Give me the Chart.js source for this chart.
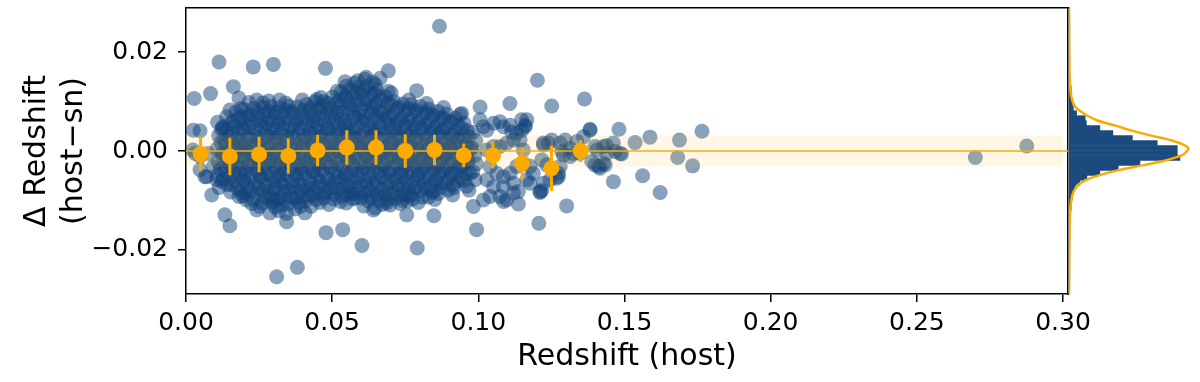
<!DOCTYPE html>
<html>
<head>
<meta charset="utf-8">
<script src="https://cdn.jsdelivr.net/npm/chart.js@4.4.1/dist/chart.umd.min.js"></script>
<style>
  body { margin: 0; background: #fff; }
  #wrap { position: relative; width: 1200px; height: 382px; }
  #main { position: absolute; left: 0; top: 0; }
  #side { position: absolute; left: 1068px; top: 0; }
</style>
</head>
<body>
<div id="wrap">
  <canvas id="main" width="1200" height="382"></canvas>
  <canvas id="side" width="132" height="382"></canvas>
</div>
<script>
// axis limits and ticks
const xLim = [0, 0.3017];
const yLim = [-0.0289, 0.0289];
const xTicks = [0, 0.05, 0.10, 0.15, 0.20, 0.25, 0.30];
const yTicks = [-0.02, 0, 0.02];

// host redshift vs (host - sn), dense core
const corePairs = [
  [.0108,.0058],[.0121,.0044],[.0112,.0031],[.0119,.0017],[.0106,.0004],[.0124,-.0009],[.0110,-.0022],[.0118,-.0036],[.0107,-.0049],[.0122,-.0061],[.0113,-.0074],
  [.0139,.0069],[.0152,.0056],[.0141,.0042],[.0149,.0028],[.0137,.0015],[.0154,.0001],[.0143,-.0013],[.0150,-.0027],[.0136,-.0040],[.0148,-.0054],[.0141,-.0068],[.0153,-.0083],
  [.0171,.0079],[.0182,.0064],[.0168,.0051],[.0179,.0037],[.0173,.0023],[.0184,.0009],[.0167,-.0006],[.0178,-.0019],[.0172,-.0033],[.0183,-.0047],[.0169,-.0061],[.0177,-.0076],[.0181,-.0092],
  [.0199,.0084],[.0211,.0071],[.0203,.0057],[.0196,.0043],[.0212,.0029],[.0201,.0014],[.0208,.0001],[.0197,-.0014],[.0213,-.0028],[.0204,-.0042],[.0198,-.0057],[.0210,-.0071],[.0202,-.0085],[.0207,-.0099],
  [.0231,.0086],[.0242,.0072],[.0228,.0058],[.0239,.0045],[.0233,.0031],[.0244,.0016],[.0227,.0003],[.0238,-.0011],[.0232,-.0025],[.0243,-.0039],[.0229,-.0054],[.0237,-.0068],[.0241,-.0083],[.0230,-.0097],
  [.0262,.0089],[.0271,.0075],[.0259,.0061],[.0268,.0048],[.0273,.0033],[.0258,.0019],[.0266,.0005],[.0274,-.0009],[.0261,-.0023],[.0269,-.0037],[.0257,-.0051],[.0272,-.0066],[.0263,-.0080],[.0268,-.0094],[.0260,-.0105],
  [.0291,.0090],[.0302,.0077],[.0288,.0063],[.0299,.0050],[.0293,.0036],[.0304,.0021],[.0287,.0008],[.0298,-.0006],[.0292,-.0020],[.0303,-.0034],[.0289,-.0048],[.0297,-.0062],[.0301,-.0077],[.0290,-.0091],[.0296,-.0104],
  [.0321,.0088],[.0332,.0074],[.0318,.0060],[.0329,.0046],[.0323,.0032],[.0334,.0018],[.0317,.0004],[.0328,-.0010],[.0322,-.0024],[.0333,-.0038],[.0319,-.0052],[.0327,-.0066],[.0331,-.0081],[.0320,-.0095],[.0326,-.0109],
  [.0352,.0091],[.0361,.0077],[.0349,.0063],[.0358,.0049],[.0363,.0035],[.0348,.0021],[.0356,.0007],[.0364,-.0007],[.0351,-.0021],[.0359,-.0035],[.0347,-.0049],[.0362,-.0064],[.0353,-.0078],[.0358,-.0093],[.0350,-.0107],
  [.0381,.0089],[.0392,.0075],[.0378,.0061],[.0389,.0047],[.0383,.0033],[.0394,.0019],[.0377,.0005],[.0388,-.0009],[.0382,-.0023],[.0393,-.0037],[.0379,-.0051],[.0387,-.0066],[.0391,-.0080],[.0380,-.0094],[.0386,-.0104],
  [.0412,.0094],[.0421,.0080],[.0409,.0066],[.0418,.0052],[.0423,.0038],[.0408,.0024],[.0416,.0010],[.0424,-.0004],[.0411,-.0018],[.0419,-.0032],[.0407,-.0046],[.0422,-.0061],[.0413,-.0075],[.0418,-.0089],[.0410,-.0100],
  [.0441,.0099],[.0452,.0085],[.0438,.0071],[.0449,.0057],[.0443,.0043],[.0454,.0029],[.0437,.0015],[.0448,.0001],[.0442,-.0013],[.0453,-.0027],[.0439,-.0041],[.0447,-.0056],[.0451,-.0070],[.0440,-.0084],[.0446,-.0098],
  [.0472,.0100],[.0481,.0086],[.0469,.0072],[.0478,.0058],[.0483,.0044],[.0468,.0030],[.0476,.0016],[.0484,.0002],[.0471,-.0012],[.0479,-.0026],[.0467,-.0040],[.0482,-.0055],[.0473,-.0069],[.0478,-.0083],[.0470,-.0095],
  [.0501,.0109],[.0512,.0095],[.0498,.0081],[.0509,.0067],[.0503,.0053],[.0514,.0039],[.0497,.0025],[.0508,.0011],[.0502,-.0003],[.0513,-.0017],[.0499,-.0031],[.0507,-.0046],[.0511,-.0060],[.0500,-.0074],[.0506,-.0088],[.0504,-.0097],
  [.0531,.0119],[.0542,.0106],[.0529,.0092],[.0538,.0078],[.0533,.0064],[.0544,.0050],[.0527,.0036],[.0538,.0022],[.0532,.0008],[.0543,-.0006],[.0529,-.0020],[.0537,-.0034],[.0541,-.0049],[.0530,-.0063],[.0536,-.0077],[.0534,-.0092],
  [.0562,.0124],[.0571,.0111],[.0559,.0097],[.0568,.0083],[.0573,.0069],[.0558,.0055],[.0566,.0041],[.0574,.0027],[.0561,.0013],[.0569,-.0001],[.0557,-.0015],[.0572,-.0029],[.0563,-.0043],[.0568,-.0058],[.0560,-.0072],[.0566,-.0086],[.0570,-.0097],
  [.0591,.0129],[.0602,.0115],[.0588,.0101],[.0599,.0087],[.0593,.0073],[.0604,.0059],[.0587,.0045],[.0598,.0031],[.0592,.0017],[.0603,.0003],[.0589,-.0011],[.0597,-.0025],[.0601,-.0039],[.0590,-.0054],[.0596,-.0068],[.0594,-.0082],[.0599,-.0095],
  [.0622,.0131],[.0631,.0117],[.0619,.0103],[.0628,.0089],[.0633,.0075],[.0618,.0061],[.0626,.0047],[.0634,.0033],[.0621,.0019],[.0629,.0005],[.0617,-.0009],[.0632,-.0023],[.0623,-.0037],[.0628,-.0052],[.0620,-.0066],[.0626,-.0080],[.0630,-.0094],[.0624,-.0101],
  [.0651,.0123],[.0662,.0109],[.0648,.0095],[.0659,.0081],[.0653,.0067],[.0664,.0053],[.0647,.0039],[.0658,.0025],[.0652,.0011],[.0663,-.0003],[.0649,-.0017],[.0657,-.0031],[.0661,-.0045],[.0650,-.0060],[.0656,-.0074],[.0654,-.0088],[.0659,-.0100],
  [.0682,.0110],[.0691,.0096],[.0679,.0082],[.0688,.0068],[.0693,.0054],[.0678,.0040],[.0686,.0026],[.0694,.0012],[.0681,-.0002],[.0689,-.0016],[.0677,-.0030],[.0692,-.0044],[.0683,-.0058],[.0688,-.0073],[.0680,-.0087],[.0686,-.0100],
  [.0711,.0100],[.0722,.0086],[.0708,.0072],[.0719,.0058],[.0713,.0044],[.0724,.0030],[.0707,.0016],[.0718,.0002],[.0712,-.0012],[.0723,-.0026],[.0709,-.0040],[.0717,-.0055],[.0721,-.0069],[.0710,-.0083],[.0716,-.0096],
  [.0742,.0095],[.0751,.0081],[.0739,.0067],[.0748,.0053],[.0753,.0039],[.0738,.0025],[.0746,.0011],[.0754,-.0003],[.0741,-.0017],[.0749,-.0031],[.0737,-.0045],[.0752,-.0060],[.0743,-.0074],[.0748,-.0088],[.0740,-.0100],
  [.0771,.0094],[.0782,.0080],[.0768,.0066],[.0779,.0052],[.0773,.0038],[.0784,.0024],[.0767,.0010],[.0778,-.0004],[.0772,-.0018],[.0783,-.0032],[.0769,-.0046],[.0777,-.0061],[.0781,-.0075],[.0770,-.0089],[.0776,-.0097],
  [.0802,.0090],[.0811,.0076],[.0799,.0062],[.0808,.0048],[.0813,.0034],[.0798,.0020],[.0806,.0006],[.0814,-.0008],[.0801,-.0022],[.0809,-.0036],[.0797,-.0050],[.0812,-.0065],[.0803,-.0079],[.0808,-.0093],
  [.0831,.0085],[.0842,.0071],[.0828,.0057],[.0839,.0043],[.0833,.0029],[.0844,.0015],[.0827,.0001],[.0838,-.0013],[.0832,-.0027],[.0843,-.0041],[.0829,-.0055],[.0837,-.0070],[.0841,-.0084],[.0830,-.0093],
  [.0862,.0080],[.0871,.0066],[.0859,.0052],[.0868,.0038],[.0873,.0024],[.0858,.0010],[.0866,-.0004],[.0874,-.0018],[.0861,-.0032],[.0869,-.0046],[.0857,-.0060],[.0872,-.0074],[.0863,-.0086],
  [.0891,.0075],[.0902,.0061],[.0888,.0047],[.0899,.0033],[.0893,.0019],[.0904,.0005],[.0887,-.0009],[.0898,-.0023],[.0892,-.0037],[.0903,-.0051],[.0889,-.0065],[.0897,-.0079],
  [.0922,.0066],[.0931,.0052],[.0919,.0038],[.0928,.0024],[.0933,.0010],[.0918,-.0004],[.0926,-.0018],[.0934,-.0032],[.0921,-.0046],[.0929,-.0060],[.0917,-.0074],
  [.0951,.0056],[.0962,.0041],[.0948,.0027],[.0959,.0012],[.0953,-.0002],[.0964,-.0017],[.0947,-.0031],[.0958,-.0046],[.0952,-.0060],[.0961,-.0071],
  [.0982,.0038],[.0991,.0021],[.0979,.0006],[.0988,-.0009],[.0993,-.0026],[.0981,-.0042],[.0989,-.0058]
];

// more points filling the middle of the core
const innerPairs = [
  [.0126,.0049],[.0131,.0022],[.0125,-.0004],[.0132,-.0031],[.0127,-.0057],
  [.0163,.0061],[.0157,.0036],[.0164,.0010],[.0158,-.0016],[.0162,-.0042],[.0156,-.0067],
  [.0188,.0070],[.0194,.0045],[.0187,.0018],[.0193,-.0008],[.0189,-.0035],[.0195,-.0061],[.0190,-.0084],
  [.0222,.0074],[.0216,.0049],[.0223,.0023],[.0217,-.0003],[.0221,-.0030],[.0215,-.0056],[.0220,-.0081],
  [.0247,.0078],[.0253,.0052],[.0246,.0027],[.0252,.0001],[.0248,-.0025],[.0254,-.0051],[.0249,-.0076],
  [.0284,.0080],[.0278,.0055],[.0285,.0029],[.0279,.0004],[.0283,-.0022],[.0277,-.0048],[.0282,-.0073],[.0280,-.0097],
  [.0308,.0079],[.0314,.0054],[.0307,.0028],[.0313,.0002],[.0309,-.0024],[.0315,-.0050],[.0310,-.0075],[.0312,-.0099],
  [.0342,.0082],[.0336,.0056],[.0343,.0031],[.0337,.0005],[.0341,-.0021],[.0335,-.0047],[.0340,-.0072],[.0338,-.0098],
  [.0367,.0080],[.0373,.0054],[.0366,.0028],[.0372,.0003],[.0368,-.0023],[.0374,-.0049],[.0369,-.0074],[.0371,-.0096],
  [.0403,.0083],[.0397,.0058],[.0404,.0032],[.0398,.0006],[.0402,-.0020],[.0396,-.0046],[.0401,-.0071],[.0399,-.0093],
  [.0428,.0087],[.0434,.0061],[.0427,.0036],[.0433,.0010],[.0429,-.0016],[.0435,-.0042],[.0430,-.0067],[.0432,-.0090],
  [.0462,.0091],[.0456,.0065],[.0463,.0040],[.0457,.0014],[.0461,-.0012],[.0455,-.0038],[.0460,-.0063],[.0458,-.0087],
  [.0487,.0096],[.0493,.0070],[.0486,.0045],[.0492,.0019],[.0488,-.0007],[.0494,-.0033],[.0489,-.0058],[.0491,-.0083],
  [.0524,.0103],[.0518,.0078],[.0525,.0052],[.0519,.0026],[.0523,.0000],[.0517,-.0026],[.0522,-.0052],[.0520,-.0077],
  [.0546,.0111],[.0552,.0085],[.0545,.0059],[.0551,.0033],[.0547,.0007],[.0553,-.0019],[.0548,-.0045],[.0550,-.0070],[.0549,-.0088],
  [.0583,.0118],[.0577,.0092],[.0584,.0066],[.0578,.0040],[.0582,.0014],[.0576,-.0012],[.0581,-.0038],[.0579,-.0063],[.0580,-.0086],
  [.0608,.0121],[.0614,.0095],[.0607,.0069],[.0613,.0043],[.0609,.0017],[.0615,-.0009],[.0610,-.0035],[.0612,-.0061],[.0611,-.0085],
  [.0643,.0116],[.0637,.0090],[.0644,.0064],[.0638,.0038],[.0642,.0012],[.0636,-.0014],[.0641,-.0040],[.0639,-.0066],[.0640,-.0089],
  [.0667,.0103],[.0673,.0077],[.0666,.0051],[.0672,.0025],[.0668,-.0001],[.0674,-.0027],[.0669,-.0053],[.0671,-.0079],
  [.0703,.0093],[.0697,.0067],[.0704,.0041],[.0698,.0015],[.0702,-.0011],[.0696,-.0037],[.0701,-.0063],[.0699,-.0088],
  [.0728,.0088],[.0734,.0062],[.0727,.0036],[.0733,.0010],[.0729,-.0016],[.0735,-.0042],[.0730,-.0068],[.0732,-.0091],
  [.0763,.0085],[.0757,.0059],[.0764,.0033],[.0758,.0007],[.0762,-.0019],[.0756,-.0045],[.0761,-.0071],[.0759,-.0090],
  [.0787,.0082],[.0793,.0056],[.0786,.0030],[.0792,.0004],[.0788,-.0022],[.0794,-.0048],[.0789,-.0074],
  [.0823,.0078],[.0817,.0052],[.0824,.0026],[.0818,.0000],[.0822,-.0026],[.0816,-.0052],[.0821,-.0077],
  [.0847,.0072],[.0853,.0046],[.0846,.0020],[.0852,-.0006],[.0848,-.0032],[.0854,-.0058],[.0849,-.0081],
  [.0882,.0066],[.0876,.0040],[.0883,.0014],[.0877,-.0012],[.0881,-.0038],[.0875,-.0064],
  [.0907,.0058],[.0913,.0032],[.0906,.0006],[.0912,-.0020],[.0908,-.0046],[.0914,-.0068],
  [.0943,.0047],[.0937,.0021],[.0944,-.0005],[.0938,-.0031],[.0942,-.0055],
  [.0967,.0030],[.0973,.0005],[.0966,-.0021],[.0972,-.0045]
];

// points on the edge of the core
const edgePairs = [
  [.0215,.0098],[.0252,-.0112],[.0283,.0101],[.0318,-.0121],[.0341,.0097],[.0372,-.0117],[.0398,.0103],[.0428,-.0112],
  [.0461,.0108],[.0489,-.0108],[.0517,.0121],[.0548,-.0105],[.0577,.0137],[.0608,-.0111],[.0639,.0139],[.0671,-.0108],
  [.0702,.0117],[.0733,-.0106],[.0762,.0103],[.0795,-.0104],[.0823,.0096],[.0851,-.0098],[.0881,.0088],[.0912,-.0089],
  [.0938,.0074],[.0968,-.0079],[.0587,.0142],[.0616,.0149],[.0548,.0131],[.0648,.0134],[.0195,-.0091],[.0188,.0086],
  [.0225,-.0106],[.0263,.0097],[.0305,-.0113],[.0392,-.0112],[.0458,-.0104],[.0529,-.0102],[.0692,.0121],[.0758,-.0101]
];

// scattered points around the core
const tailPairs = [
  [.0867,.0252],[.0113,.0180],[.0230,.0170],[.0299,.0175],[.0477,.0167],[.0028,.0106],[.0084,.0116],[.0162,.0130],
  [.0181,.0107],[.0025,.0042],[.0048,.0041],[.0128,.0046],[.0088,-.0089],[.0133,-.0129],[.0150,-.0151],[.0310,-.0254],
  [.0381,-.0235],[.0479,-.0165],[.0536,-.0159],[.0602,-.0191],[.0791,-.0196],[.0755,-.0129],[.0848,-.0131],[.0943,.0076],
  [.0692,.0162],[.0664,.0147],[.0612,.0145],[.0544,.0140],[.0789,.0122],[.0242,.0103],[.0320,.0103],[.0447,.0104],
  [.0287,-.0125],[.0344,-.0143],[.0407,-.0125],[.0344,-.0126],[.0299,-.0099],[.0242,-.0119],[.0641,-.0119],[.0687,-.0105],
  [.0983,-.0112],[.0994,-.0159],[.1006,.0089],[.0065,-.0052],[.0048,-.0011],[.0024,.0002],[.0647,-.0115],[.0698,-.0109],
  [.0578,-.0095],[.0076,-.0005],[.0093,-.0032],[.0105,-.0058],[.0150,.0083],[.0031,-.0005],[.0071,-.0052],[.0048,-.0038],
  [.1202,.0143],[.1108,.0096],[.1251,.0091],[.1363,.0105],[.1481,.0044],[.1765,.0040],[.1587,.0028],[.1688,.0022],
  [.1536,.0017],[.1682,-.0013],[.1733,-.0030],[.1490,-.0006],[.1439,.0011],[.1462,-.0062],[.1562,-.0050],[.1622,-.0084],
  [.1302,-.0111],[.1207,-.0146],[.1137,-.0107],[.1217,-.0080],[.1086,-.0102],[.1148,.0063],[.1160,.0049],[.1382,.0044],
  [.1399,.0009],[.1428,-.0025],[.1416,-.0035],[.1348,-.0005],[.1314,.0005],[.1280,.0016],[.1222,.0016],[.1274,-.0045],
  [.1268,-.0055],[.1211,-.0084],[.2700,-.0013],[.2876,.0010]
];

// the group of points between z = 0.10 and 0.15
const midPairs = [
  [.1240,.0016],[.1251,.0022],[.1285,-.0001],[.1297,.0022],[.1337,.0019],[.1382,.0042],[.1360,.0029],[.1405,.0002],
  [.1428,.0009],[.1411,-.0031],[.1434,-.0028],[.1399,-.0028],[.1388,-.0021],[.1439,-.0005],[.1462,.0016],[.1468,-.0001],
  [.1485,-.0005],[.1291,-.0008],[.1314,-.0011],[.1325,-.0005],[.1223,.0012],[.1217,-.0018],[.1234,-.0028],[.1245,-.0058],
  [.1274,-.0052],[.1280,-.0031],[.1211,-.0082],[.1223,-.0065],[.1177,-.0065],[.1166,-.0058],[.1188,-.0045],[.1154,.0002],
  [.1143,.0022],[.1149,.0042],[.1160,.0052],[.1166,.0063],[.1131,.0036],[.1114,.0039],[.1109,.0052],[.1086,.0049],
  [.1074,.0059],[.1052,.0056],[.1029,.0042],[.1017,.0049],[.1006,.0063],[.1120,.0022],[.1097,.0016],[.1074,.0009],
  [.1052,.0009],[.1029,.0002],[.1040,-.0031],[.1063,-.0045],[.1086,-.0052],[.1109,-.0045],[.1131,-.0031],[.1154,-.0025],
  [.1177,-.0031],[.1120,-.0065],[.1086,-.0072],[.1074,-.0092],[.1052,-.0072],[.1029,-.0058],[.1040,-.0092],[.1017,-.0099],
  [.1097,-.0099],[.1120,-.0085],[.1137,-.0082]
];

// binned means with errors
const binZ = [0.005, 0.015, 0.025, 0.035, 0.045, 0.055, 0.065, 0.075, 0.085, 0.095, 0.105, 0.115, 0.125, 0.135];
const binMean = [-0.0006, -0.0011, -0.0007, -0.0010, 0.0001, 0.0007, 0.0007, 0.0000, 0.0002, -0.0009, -0.0009, -0.0025, -0.0035, 0.0000];
const binErr = [0.0035, 0.0038, 0.0036, 0.0036, 0.0032, 0.0035, 0.0035, 0.0034, 0.0031, 0.0024, 0.0026, 0.0032, 0.0046, 0.0022];

// shaded band and zero line
const bandZ = [0, 0.30];
const bandHalf = 0.0032;

// histogram of delta z (side panel)
const histDz = [-0.0135,-0.0125,-0.0115,-0.0105,-0.0095,-0.0085,-0.0075,-0.0065,-0.0055,-0.0045,-0.0035,-0.0025,-0.0015,-0.0005,
                0.0005,0.0015,0.0025,0.0035,0.0045,0.0055,0.0065,0.0075,0.0085,0.0095,0.0105,0.0115,0.0125,0.0135,0.0145];
const histN = [2,3,4,5,6,7,11,20,33,57,91,131,205,200,200,163,117,81,57,32,30,14,8,6,5,5,4,2,1];

// fitted profile (side panel)
const fitDz = [-0.0289,-0.015,-0.011,-0.009,-0.008,-0.007,-0.006,-0.005,-0.004,-0.003,-0.002,-0.001,0,0.0005,
               0.001,0.002,0.003,0.004,0.005,0.006,0.007,0.008,0.009,0.011,0.015,0.0289];
const fitN = [0.2,1.2,3,6,10,16,30,55,90,135,178,208,219,220,215,190,152,116,86,54,34,20,10,4,1.2,0.2];

Chart.defaults.font.family = 'DejaVu Sans';
Chart.defaults.color = '#000';

const orange = '#fbaa00';
const dotBlue = 'rgba(18,68,124,0.5)';
const toXY = p => ({x: p[0], y: p[1]});
const allPairs = corePairs.concat(innerPairs, edgePairs, tailPairs, midPairs);

const errSegs = [];
binZ.forEach((z, i) => {
  errSegs.push({x: z, y: binMean[i] - binErr[i]});
  errSegs.push({x: z, y: binMean[i] + binErr[i]});
  errSegs.push({x: z, y: null});
});

function fixTicks(list) {
  return s => { s.ticks = list.map(v => ({value: v})); };
}
// keep the plot box where it is, whatever the tick labels need
function pin(w, h) {
  return s => {
    if (w !== null) s.width = w;
    if (h !== null) s.height = h;
    s.paddingTop = s.paddingBottom = s.paddingLeft = s.paddingRight = 0;
  };
}
const minus = v => (v < 0 ? '\u2212' : '') + Math.abs(v).toFixed(2);

new Chart(document.getElementById('main'), {
  type: 'scatter',
  data: {
    datasets: [
      { data: binZ.map((z, i) => ({x: z, y: binMean[i]})), pointRadius: 8, pointBackgroundColor: orange, pointBorderWidth: 0, order: 0 },
      { data: errSegs, showLine: true, spanGaps: false, borderColor: orange, borderWidth: 3, borderCapStyle: 'butt', pointRadius: 0, order: 1 },
      { data: [{x: xLim[0], y: 0}, {x: xLim[1], y: 0}], showLine: true, borderColor: '#f7ac10', borderWidth: 1.5, pointRadius: 0, order: 2 },
      { data: bandZ.map(z => ({x: z, y: bandHalf})), showLine: true, borderWidth: 0, borderColor: 'transparent', pointRadius: 0, fill: false, order: 3 },
      { data: bandZ.map(z => ({x: z, y: -bandHalf})), showLine: true, borderWidth: 0, borderColor: 'transparent', pointRadius: 0,
        fill: '-1', backgroundColor: 'rgba(250,190,40,0.12)', order: 3 },
      { data: allPairs.map(toXY), pointRadius: 7.5, pointBackgroundColor: dotBlue, pointBorderWidth: 0, order: 5 }
    ]
  },
  options: {
    responsive: false,
    animation: false,
    events: [],
    layout: { padding: { top: 7, right: 132, bottom: 0, left: 0 } },
    plugins: { legend: { display: false }, tooltip: { enabled: false } },
    scales: {
      x: {
        type: 'linear', position: 'bottom', min: xLim[0], max: xLim[1],
        afterBuildTicks: fixTicks(xTicks),
        afterFit: pin(null, 88),
        grid: { drawOnChartArea: false, tickLength: 8, color: '#000', lineWidth: 1.5 },
        border: { display: true, color: '#000', width: 1.5 },
        ticks: { font: { size: 25 }, padding: 6, maxRotation: 0, callback: v => v.toFixed(2) },
        title: { display: true, text: 'Redshift (host)', font: { size: 30 }, padding: { top: 0, bottom: 7 } }
      },
      y: {
        type: 'linear', position: 'left', min: yLim[0], max: yLim[1],
        afterBuildTicks: fixTicks(yTicks),
        afterFit: pin(186, null),
        grid: { drawOnChartArea: false, tickLength: 8, color: '#000', lineWidth: 1.5 },
        border: { display: true, color: '#000', width: 1.5 },
        ticks: { font: { size: 25 }, padding: 10, callback: minus },
        title: { display: true, text: ['\u0394 Redshift', '(host\u2212sn)'], font: { size: 30, lineHeight: 1.25 }, padding: { top: 18, bottom: 0 } }
      },
      x2: {
        type: 'linear', position: 'top', min: xLim[0], max: xLim[1],
        afterFit: pin(null, 0),
        grid: { display: false }, ticks: { display: false },
        border: { display: true, color: '#000', width: 1.5 }
      },
      y2: {
        type: 'linear', position: 'right', min: yLim[0], max: yLim[1],
        afterFit: pin(0, null),
        grid: { display: false }, ticks: { display: false },
        border: { display: true, color: '#000', width: 1.5 }
      }
    }
  }
});

new Chart(document.getElementById('side'), {
  type: 'bar',
  data: {
    datasets: [
      { type: 'line', data: fitDz.map((d, i) => ({x: fitN[i], y: d})), borderColor: orange, borderWidth: 2.5,
        pointRadius: 0, tension: 0.3, fill: false, order: 0 },
      { type: 'bar', data: histDz.map((d, i) => ({x: histN[i], y: d})), backgroundColor: '#1a4a7e',
        barPercentage: 1, categoryPercentage: 1, borderWidth: 0, order: 1 }
    ]
  },
  options: {
    indexAxis: 'y',
    responsive: false,
    animation: false,
    events: [],
    layout: { padding: { top: 7, right: 0, bottom: 88, left: 1 } },
    plugins: { legend: { display: false }, tooltip: { enabled: false } },
    scales: {
      x: { type: 'linear', min: 0, max: 242, display: false, offset: false },
      y: { type: 'linear', min: yLim[0], max: yLim[1], display: false, offset: false }
    }
  }
});
</script>
</body>
</html>
